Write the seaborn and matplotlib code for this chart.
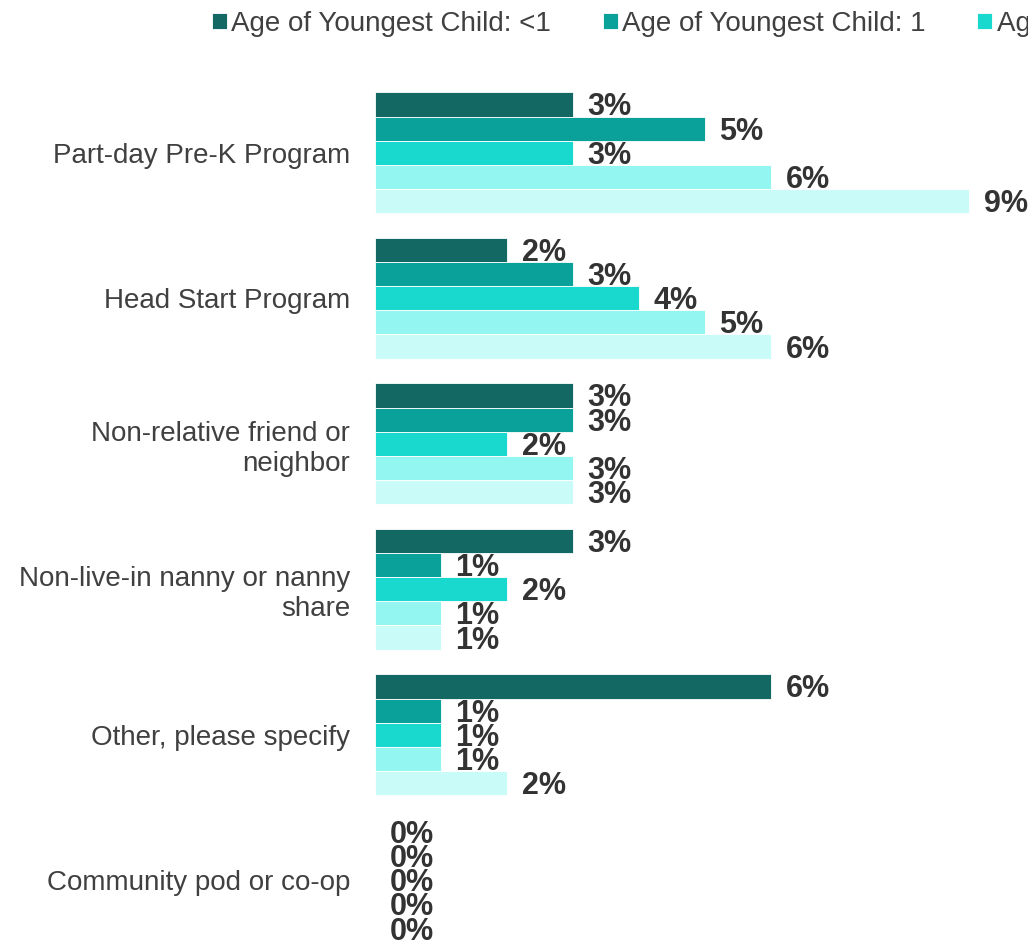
import pandas as pd
import matplotlib
matplotlib.use("Agg")
import matplotlib.pyplot as plt
import seaborn as sns

# chart data
categories = [
    "Part-day Pre-K Program",
    "Head Start Program",
    "Non-relative friend or\nneighbor",
    "Non-live-in nanny or nanny\nshare",
    "Other, please specify",
    "Community pod or co-op",
]
series = [
    "Age of Youngest Child: <1",
    "Age of Youngest Child: 1",
    "Age of Youngest Child: 2",
    "Age of Youngest Child: 3",
    "Age of Youngest Child: 4",
]
age_lt1 = [3, 2, 3, 3, 6, 0]
age_1 = [5, 3, 3, 1, 1, 0]
age_2 = [3, 4, 2, 2, 1, 0]
age_3 = [6, 5, 3, 1, 1, 0]
age_4 = [9, 6, 3, 1, 2, 0]
colors = ["#136864", "#0aa19b", "#19d9cf", "#93f6f1", "#c9fbf8"]

values = [age_lt1, age_1, age_2, age_3, age_4]
df = pd.DataFrame(
    [(c, s, v[i]) for s, v in zip(series, values) for i, c in enumerate(categories)],
    columns=["category", "series", "value"],
)

sns.set_style("white")
plt.rcParams["font.family"] = ["Liberation Sans", "DejaVu Sans"]

W, H = 1028, 940
fig = plt.figure(figsize=(W / 100, H / 100), dpi=100)
ax = fig.add_axes([375 / W, -13 / H, 660 / W, 873 / H])

sns.barplot(
    data=df, x="value", y="category", hue="series", palette=colors,
    orient="h", width=0.83, saturation=1, ax=ax, edgecolor="white", linewidth=0.6,
)

# value labels
for cont in ax.containers:
    for bar in cont:
        w = bar.get_width()
        yc = bar.get_y() + bar.get_height() / 2
        ax.annotate(
            f"{w:.0f}%", xy=(w, yc), xytext=(10.5, -7.9), textcoords="offset points",
            ha="left", va="baseline", fontsize=22, fontweight="bold",
            color="#333333", annotation_clip=False,
        )

ax.set_xlim(0, 10)
ax.set_ylim(5.5, -0.5)
ax.set_xlabel("")
ax.set_ylabel("")
ax.set_xticks([])
sns.despine(ax=ax, left=True, bottom=True)
ax.tick_params(axis="y", length=0, pad=18, labelsize=20, labelcolor="#404040")

sns.move_legend(
    ax, "upper left", bbox_to_anchor=(198 / W, 1 + 3 / H), bbox_transform=fig.transFigure,
    ncol=5, frameon=False, title=None, fontsize=20, borderpad=0,
    handlelength=0.55, handleheight=0.55, handletextpad=0.15, columnspacing=1.85,
    labelcolor="#404040",
)

fig.savefig("out.png", dpi=100)
